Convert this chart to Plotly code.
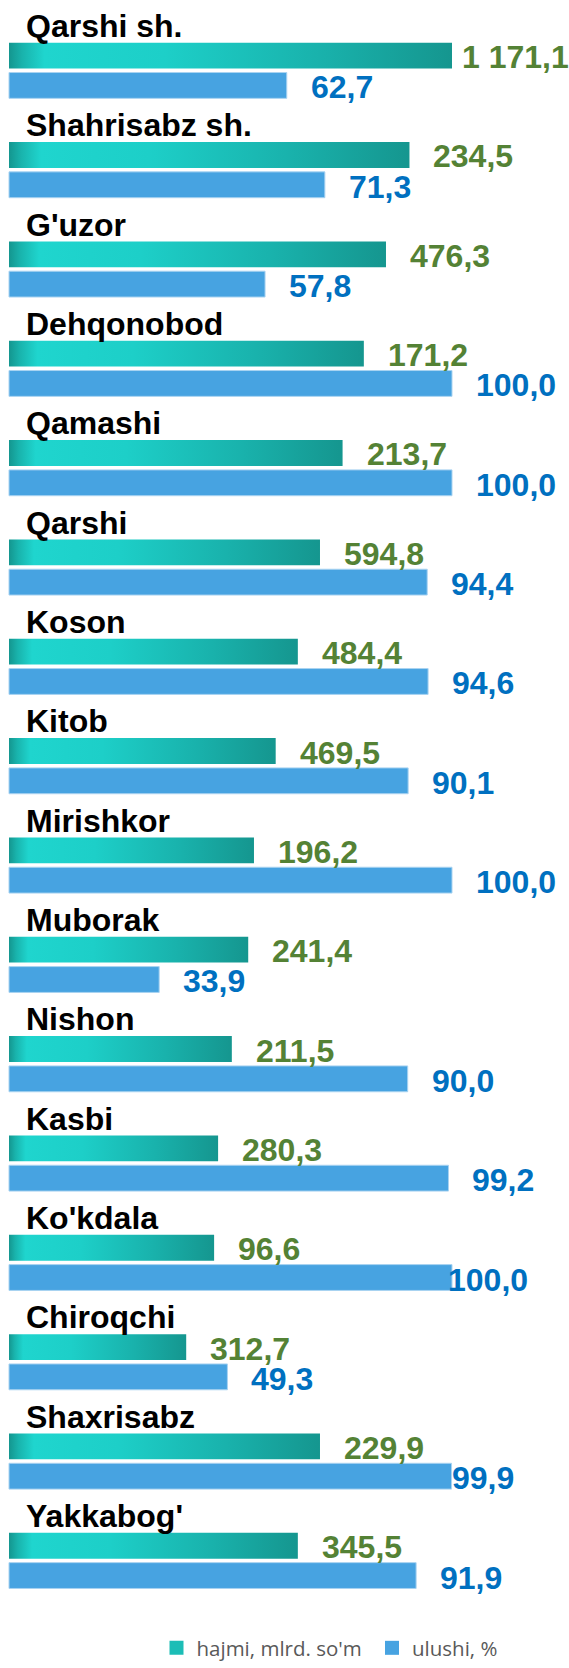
import plotly.graph_objects as go

# ---------------- data ----------------
categories = ["Qarshi sh.", "Shahrisabz sh.", "G'uzor", "Dehqonobod", "Qamashi",
              "Qarshi", "Koson", "Kitob", "Mirishkor", "Muborak", "Nishon",
              "Kasbi", "Ko'kdala", "Chiroqchi", "Shaxrisabz", "Yakkabog'"]

# hajmi, mlrd. so'm (value labels)
hajmi = [1171.1, 234.5, 476.3, 171.2, 213.7, 594.8, 484.4, 469.5, 196.2,
         241.4, 211.5, 280.3, 96.6, 312.7, 229.9, 345.5]
# drawn length of the hajmi bars (same scale as ulushi, %)
hajmi_bar_len = [100.0, 90.4, 85.1, 80.1, 75.3, 70.2, 65.2, 60.2, 55.3,
                 54.0, 50.3, 47.2, 46.3, 40.0, 70.2, 65.2]
# ulushi, %
ulushi = [62.7, 71.3, 57.8, 100.0, 100.0, 94.4, 94.6, 90.1, 100.0,
          33.9, 90.0, 99.2, 100.0, 49.3, 99.9, 91.9]

series_names = ["hajmi, mlrd. so'm", "ulushi, %"]

# ---------------- styles ----------------
W, H = 569, 1668
PX_PER_UNIT = 4.43        # x pixels per axis unit
X0_PX = 9                 # pixel position of x = 0
Y0_PX = 71                # pixel position of group 0 centre
GROUP_PX = 100            # pixels per group

TEAL_SCALE = [[0.0, "#14968f"], [0.03, "#19b3ac"], [0.08, "#1fd5ce"],
              [0.35, "#1dcfc8"], [0.7, "#19b2ac"], [1.0, "#15968f"]]
TEAL_SOLID = "#1cbdb6"
BLUE = "#47a3e1"
GREEN_TXT = "#548235"
BLUE_TXT = "#0070c0"
FONT = "Liberation Sans, Arial, sans-serif"

BAR_H = 0.26
TEAL_C = -0.15
BLUE_C = 0.15
LABEL_GAP = 22


def fmt(v):
    return f"{v:,.1f}".replace(",", " ").replace(".", ",")


fig = go.Figure()

# teal gradient bars, one area per category
for i, L in enumerate(hajmi_bar_len):
    y0, y1 = i + TEAL_C - BAR_H / 2, i + TEAL_C + BAR_H / 2
    fig.add_trace(go.Scatter(
        x=[0, L, L, 0, 0], y=[y0, y0, y1, y1, y0],
        mode="none", fill="toself",
        fillgradient=dict(type="horizontal", colorscale=TEAL_SCALE),
        showlegend=False, hoverinfo="skip"))

# blue bars
fig.add_trace(go.Bar(
    x=ulushi, y=[i + BLUE_C for i in range(len(categories))],
    orientation="h", width=BAR_H, marker=dict(color=BLUE, line=dict(width=1, color="#a9d3f1")),
    showlegend=False, hovertext=categories, hoverinfo="text+x"))

# legend entries (one legend box each, to place them like the original)
fig.add_trace(go.Scatter(x=[None], y=[None], mode="markers", name=series_names[0],
                         marker=dict(symbol="square", size=14, color=TEAL_SOLID),
                         legend="legend"))
fig.add_trace(go.Scatter(x=[None], y=[None], mode="markers", name=series_names[1],
                         marker=dict(symbol="square", size=14, color=BLUE),
                         legend="legend2"))

annotations = []
# special label shifts (px) where the original moved labels near the edge
teal_shift = {0: 8}
blue_shift = {12: -6, 14: -2}
for i, cat in enumerate(categories):
    annotations.append(dict(x=0, y=i - 0.45, xref="x", yref="y", text=cat,
                            xanchor="left", yanchor="middle", xshift=15, showarrow=False,
                            font=dict(family=FONT, size=32, color="#000000", weight="bold")))
    annotations.append(dict(x=hajmi_bar_len[i], y=i + TEAL_C + 0.015, xref="x", yref="y",
                            text=fmt(hajmi[i]), xanchor="left", yanchor="middle",
                            xshift=teal_shift.get(i, LABEL_GAP), showarrow=False,
                            font=dict(family=FONT, size=32, color=GREEN_TXT, weight="bold")))
    annotations.append(dict(x=ulushi[i], y=i + BLUE_C + 0.02, xref="x", yref="y",
                            text=fmt(ulushi[i]), xanchor="left", yanchor="middle",
                            xshift=blue_shift.get(i, LABEL_GAP), showarrow=False,
                            font=dict(family=FONT, size=32, color=BLUE_TXT, weight="bold")))

x_range = [-X0_PX / PX_PER_UNIT, (W - X0_PX) / PX_PER_UNIT]
y_top = -Y0_PX / GROUP_PX
y_bot = (H - Y0_PX) / GROUP_PX

legend_common = dict(orientation="h", xanchor="left", y=(H - 1659) / H, yanchor="middle",
                     font=dict(family="Open Sans, sans-serif", size=20.5, color="#595959"),
                     bgcolor="rgba(0,0,0,0)", itemsizing="trace")

fig.update_layout(
    width=W, height=H,
    margin=dict(l=0, r=0, t=0, b=0),
    paper_bgcolor="white", plot_bgcolor="white",
    barmode="overlay",
    xaxis=dict(range=x_range, visible=False, fixedrange=True),
    yaxis=dict(range=[y_bot, y_top], visible=False, fixedrange=True),
    annotations=annotations,
    showlegend=True,
    legend=dict(x=156.5 / W, **legend_common),
    legend2=dict(x=372 / W, **legend_common),
)

fig.write_html("out.html", config={"displayModeBar": False},
               post_script="document.body.style.margin='0';")
